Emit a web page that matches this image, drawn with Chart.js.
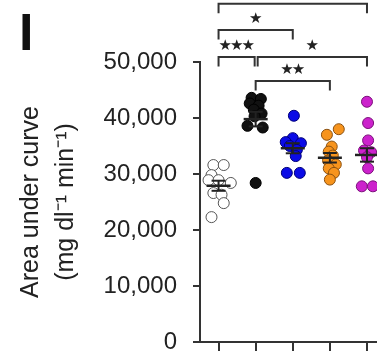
<!DOCTYPE html>
<html><head><meta charset="utf-8">
<script src="https://cdn.jsdelivr.net/npm/chart.js@4"></script>
<style>html,body{margin:0;padding:0;background:#fff;}canvas{display:block;}</style>
</head><body>
<canvas id="c" width="377" height="351"></canvas>
<script>
// ---- data ----
const groupNames = ['Group 1', 'Group 2', 'Group 3', 'Group 4', 'Group 5'];
const group1Values = [31600, 31600, 29800, 28900, 28900, 28400, 26600, 26300, 24800, 22300];
const group2Values = [43600, 43400, 42600, 42200, 41500, 40800, 40300, 38600, 38300, 28400];
const group3Values = [40400, 36400, 35700, 35500, 35000, 34300, 33200, 30200, 30200];
const group4Values = [38000, 37000, 34900, 34000, 33300, 32400, 31700, 31000, 30200, 29000];
const group5Values = [42900, 39100, 36000, 34200, 33900, 33000, 31000, 27800, 27800];
// horizontal spread of the dots (in category units)
const group1Jitter = [-0.14, 0.14, -0.19, -0.27, 0, 0.33, -0.14, 0.08, 0.14, -0.19];
const group2Jitter = [-0.11, 0.14, -0.16, 0.08, -0.05, 0.16, -0.03, -0.22, 0.19, 0];
const group3Jitter = [0.03, 0, -0.19, 0.22, -0.08, 0.11, 0.08, -0.16, 0.19];
const group4Jitter = [0.24, -0.08, 0.05, -0.03, 0.08, -0.05, 0.16, -0.03, 0.11, 0];
const group5Jitter = [0, 0.03, 0.03, -0.08, 0.11, 0, 0.03, -0.14, 0.16];
const groupMeans = [27900, 39800, 34600, 32900, 33400];
const groupSEM = [900, 1300, 900, 850, 1200];
const yTickValues = [0, 10000, 20000, 30000, 40000, 50000];
const bracketFrom = [0, 0, 0, 1, 1];
const bracketTo = [4, 2, 1, 4, 3];
const bracketLevel = [60400, 55700, 50900, 50900, 46600];
const bracketLabel = ['', '*', '***', '*', '**'];

// ---- styles ----
const FONT = '"Liberation Sans", Arial, Helvetica, sans-serif';
const fills = ['#ffffff', '#111111', '#0b0be6', '#f7941d', '#cc22cc'];
const edges = ['#555555', '#000000', '#00007a', '#8a5010', '#7a107a'];
const allValues = [group1Values, group2Values, group3Values, group4Values, group5Values];
const allJitter = [group1Jitter, group2Jitter, group3Jitter, group4Jitter, group5Jitter];

const errorDatasets = [
  { label: 'mean', data: groupMeans.map((m, i) => ({x: i, y: m})), pointStyle: 'line',
    pointRadius: 12, pointBorderWidth: 2.5, borderColor: '#222', backgroundColor: '#222', showLine: false },
  { label: 'sem caps', data: groupMeans.flatMap((m, i) => [{x: i, y: m + groupSEM[i]}, {x: i, y: m - groupSEM[i]}]),
    pointStyle: 'line', pointRadius: 7, pointBorderWidth: 2, borderColor: '#222', backgroundColor: '#222', showLine: false },
  { label: 'sem bars', data: groupMeans.flatMap((m, i) => [{x: i, y: m - groupSEM[i]}, {x: i, y: m + groupSEM[i]}, {x: i, y: null}]),
    showLine: true, spanGaps: false, pointRadius: 0, borderWidth: 2, borderColor: '#222' }
];
const dotDatasets = allValues.map((vals, g) => ({
  label: groupNames[g],
  data: vals.map((v, k) => ({x: g + allJitter[g][k], y: v})),
  pointRadius: 5.5, pointBorderWidth: 1,
  backgroundColor: fills[g], borderColor: edges[g], showLine: false
}));

const LEG_DROP = 1700, STAR_RISE = 1900;
const sigPlugin = {
  id: 'sig',
  afterDraw(chart) {
    const {ctx, scales: {x, y}} = chart;
    ctx.save();
    ctx.strokeStyle = '#333';
    ctx.lineWidth = 2;
    bracketFrom.forEach((f, i) => {
      const t = bracketTo[i], lvl = bracketLevel[i];
      let x1 = x.getPixelForValue(f), x2 = x.getPixelForValue(t);
      if (bracketTo.some((tt, j) => j !== i && tt === f && bracketLevel[j] === lvl)) x1 += 2;
      if (bracketFrom.some((ff, j) => j !== i && ff === t && bracketLevel[j] === lvl)) x2 -= 1;
      const yTop = y.getPixelForValue(lvl), yLeg = y.getPixelForValue(lvl - LEG_DROP);
      ctx.beginPath();
      ctx.moveTo(x1, yLeg); ctx.lineTo(x1, yTop); ctx.lineTo(x2, yTop); ctx.lineTo(x2, yLeg);
      ctx.stroke();
      const n = bracketLabel[i].length;
      if (n) {
        ctx.fillStyle = '#222';
        ctx.font = '15px "DejaVu Sans", sans-serif';
        ctx.textAlign = 'center';
        ctx.textBaseline = 'middle';
        const cx = (x1 + x2) / 2, cy = y.getPixelForValue(lvl + STAR_RISE);
        for (let k = 0; k < n; k++) ctx.fillText('\u2605', cx + (k - (n - 1) / 2) * 11.5, cy);
      }
    });
    ctx.fillStyle = '#111';
    ctx.font = 'bold 52px ' + FONT;
    ctx.textAlign = 'left';
    ctx.textBaseline = 'alphabetic';
    ctx.fillText('I', 19, 50);
    ctx.restore();
  }
};

new Chart(document.getElementById('c'), {
  type: 'scatter',
  data: { datasets: [...errorDatasets, ...dotDatasets] },
  options: {
    responsive: false, animation: false, devicePixelRatio: 1,
    layout: { autoPadding: false, padding: { top: 62, left: 0, right: 0, bottom: 0 } },
    plugins: { legend: { display: false }, tooltip: { enabled: false } },
    scales: {
      x: {
        type: 'linear', min: -0.5, max: 4.27,
        afterBuildTicks: s => { s.ticks = groupNames.map((_, i) => ({value: i})); },
        ticks: { display: false },
        grid: { drawOnChartArea: false, drawTicks: true, tickLength: 9, tickWidth: 2, tickColor: '#333', lineWidth: 2, color: '#333' },
        border: { display: true, color: '#333', width: 2 },
        afterFit: s => { s.height = 9; s.paddingLeft = 0; s.paddingRight = 0; }
      },
      y: {
        type: 'linear', min: 0, max: 50000,
        afterBuildTicks: s => { s.ticks = yTickValues.map(v => ({value: v})); },
        ticks: { font: { family: FONT, size: 24 }, color: '#222', padding: 16,
                 callback: v => Number(v).toLocaleString('en-US') },
        grid: { drawOnChartArea: false, drawTicks: true, tickLength: 7, tickWidth: 2, tickColor: '#333', lineWidth: 2, color: '#333' },
        border: { display: true, color: '#333', width: 2 },
        title: { display: true, text: ['Area under curve', '(mg dl\u207B\u00B9 min\u207B\u00B9)'],
                 font: { family: FONT, size: 25, lineHeight: 1.4 }, color: '#222', padding: { top: 14, bottom: 0 } },
        afterFit: s => { s.width = 200; s.paddingTop = 0; s.paddingBottom = 0; }
      }
    }
  },
  plugins: [sigPlugin]
});
</script>
</body></html>
